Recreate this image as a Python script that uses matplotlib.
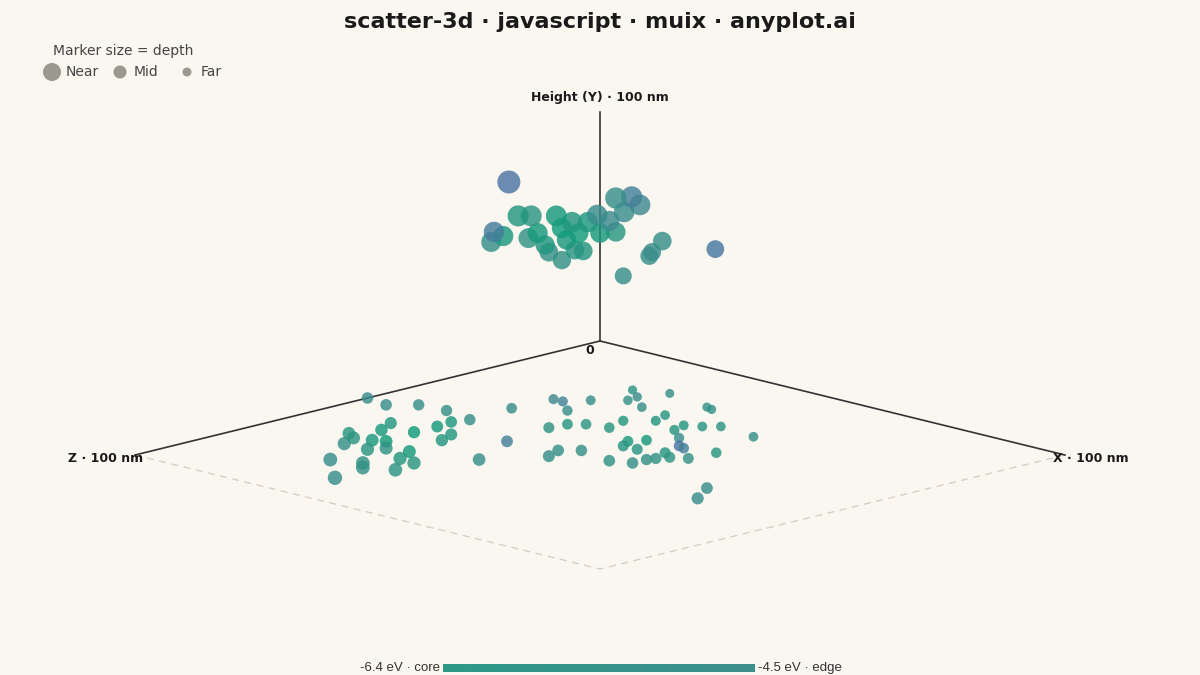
import numpy as np
import matplotlib.pyplot as plt
from matplotlib.colors import LinearSegmentedColormap

# particle positions in nm (x, y = height, z) and band energy in eV
top_x = [20.2, 18.3, 18.6, 19.6, 21.2, 22.6, 22.3, 23.3, 24.1, 24.5, 25.9, 25.3, 25.9, 26.4, 27.0, 27.7,
         28.2, 27.3, 28.7, 29.7, 30.0, 31.0, 31.7, 31.7, 32.6, 33.4, 34.3, 36.7, 35.6, 35.3, 42.4, 32.5]
top_y = [99.3, 73.1, 77.5, 75.7, 84.5, 84.5, 74.8, 77.0, 71.8, 68.7, 65.2, 84.5, 79.2, 74.0, 81.8, 77.0,
         69.2, 69.6, 81.8, 84.9, 77.0, 82.3, 77.5, 92.3, 86.2, 92.8, 89.3, 73.5, 68.7, 67.0, 70.0, 58.3]
top_z = [39.8, 41.7, 41.4, 40.4, 38.8, 37.4, 37.7, 36.7, 35.9, 35.5, 34.1, 34.7, 34.1, 33.6, 33.0, 32.3,
         31.8, 32.7, 31.3, 30.3, 30.0, 29.0, 28.3, 28.3, 27.4, 26.6, 25.7, 23.3, 24.4, 24.7, 17.6, 27.5]
top_e = [-4.6, -5.5, -4.8, -6.1, -6.0, -5.8, -5.7, -6.2, -6.0, -5.6, -5.6, -6.2, -6.3, -6.1, -6.0, -6.3,
         -6.0, -5.9, -6.1, -5.3, -6.2, -5.2, -5.9, -5.4, -5.3, -4.9, -5.1, -5.5, -5.3, -5.4, -4.7, -5.4]

left_x = [0, 5, 8.5, 14, 20.5, 20, 13.5, 16, 15.5, 13.5, 19, 21, 20, 20, 19.5, 25, 26.5, 17.5, 22.5, 24,
          28, 30, 33.5, 34.5, 28, 30, 23, 31.5, 39, 34]
left_z = [50, 51, 47.5, 47, 48.5, 39, 67.5, 69, 62.5, 58.5, 68, 67, 60, 55, 51.5, 57, 60.5, 72.5, 72.5, 70,
          69, 73, 73.5, 78.5, 79, 81, 81, 88.5, 65, 54]
left_e = [-5.3, -5.4, -5.4, -5.6, -5.5, -5.4, -5.9, -5.8, -6.2, -6.0, -6.1, -6.3, -6.3, -6.2, -6.1, -6.0,
          -6.0, -5.6, -5.9, -5.7, -6.2, -6.0, -5.9, -5.8, -5.6, -5.6, -5.4, -5.4, -5.4, -4.9]

right_x = [20.5, 22.5, 27, 25, 29, 25, 28.5, 30.5, 33.5, 40.5, 42, 39.5, 41, 32.5, 33, 35, 39, 37.5, 46,
           48.5, 50.5, 58.5, 47, 51, 47, 48.5, 48.5, 51.5, 54.5, 56, 43.5, 46, 45, 53.5, 57, 57, 57.5, 56,
           58.5, 61, 61.5, 76, 79.5]
right_z = [30.5, 30.5, 34, 27, 23, 18, 20.5, 15.5, 24.5, 17.5, 18, 25.5, 29, 43.5, 40, 38, 37, 32.5, 28,
           26.5, 24.5, 25.5, 31, 34, 41, 38.5, 43.5, 43.5, 37.5, 38, 52.5, 50, 56, 51.5, 50, 47, 45.5, 42,
           43.5, 42, 36.5, 53, 58.5]
right_e = [-5.1, -5.0, -5.4, -5.4, -5.6, -5.8, -5.3, -5.5, -5.4, -5.6, -5.7, -5.9, -6.0, -5.7, -5.9, -5.8,
           -5.9, -6.0, -6.0, -5.9, -5.8, -5.5, -5.9, -5.3, -6.1, -6.2, -5.9, -5.8, -4.6, -4.9, -5.5, -5.6,
           -5.4, -5.7, -5.5, -5.6, -5.7, -5.9, -5.8, -5.6, -5.9, -5.3, -5.3]

x = np.array(top_x + left_x + right_x)
y = np.array(top_y + [0] * (len(left_x) + len(right_x)))
z = np.array(top_z + left_z + right_z)
energy = np.array(top_e + left_e + right_e)
e_min, e_max = -6.4, -4.5

bg = '#faf7f1'
origin = np.array([600, 341])
ux, uz, uy = np.array([465, 114]), np.array([-465, 114]), np.array([0, -229])


def project(px, py, pz):
    # 100 nm -> pixels, simple fixed oblique view
    px, py, pz = np.asarray(px) / 100, np.asarray(py) / 100, np.asarray(pz) / 100
    sx = origin[0] + px * ux[0] + pz * uz[0] + py * uy[0]
    sy = origin[1] + px * ux[1] + pz * uz[1] + py * uy[1]
    return sx, sy


cmap = LinearSegmentedColormap.from_list('en', ['#0c9c78', '#2f9384', '#3d8a90', '#4d6fa6'])

fig = plt.figure(figsize=(12, 6.75), dpi=100, facecolor=bg)
ax = fig.add_axes([0, 0, 1, 1])
ax.set_facecolor(bg)
ax.set_xlim(0, 1200)
ax.set_ylim(675, 0)
ax.axis('off')

# axes and floor
for end in [(100, 0, 0), (0, 100, 0), (0, 0, 100)]:
    sx, sy = project([0, end[0]], [0, end[1]], [0, end[2]])
    ax.plot(sx, sy, color='#333333', lw=1.2, zorder=1)
for a, b in [((100, 0, 0), (100, 0, 100)), ((0, 0, 100), (100, 0, 100))]:
    sx, sy = project([a[0], b[0]], [a[1], b[1]], [a[2], b[2]])
    ax.plot(sx, sy, color='#d9cfc0', lw=1, ls=(0, (5, 4)), zorder=0)

kw = dict(fontsize=9, fontweight='bold', color='#1a1a1a')
sx, sy = project(0, 100, 0)
ax.text(sx, sy - 8, 'Height (Y) · 100 nm', ha='center', va='bottom', **kw)
sx, sy = project(0, 0, 0)
ax.text(sx - 10, sy + 3, '0', ha='center', va='top', **kw)
sx, sy = project(0, 0, 100)
ax.text(sx + 8, sy + 3, 'Z · 100 nm', ha='right', va='center', **kw)
sx, sy = project(100, 0, 0)
ax.text(sx - 12, sy + 3, 'X · 100 nm', ha='left', va='center', **kw)

# points, size encodes depth
depth = y + 0.6 * z
radius = 4.5 + (depth - depth.min()) / (depth.max() - depth.min()) * 7
sx, sy = project(x, y, z)
order = np.argsort(depth)
ax.scatter(sx[order], sy[order], s=(radius[order] * 0.72 * 2) ** 2,
           c=energy[order], cmap=cmap, vmin=e_min, vmax=e_max, alpha=0.82, edgecolors='none', zorder=3)

ax.text(600, 22, 'scatter-3d · javascript · muix · anyplot.ai', ha='center', va='center',
        fontsize=16, fontweight='bold', color='#1a1a1a')

# size legend
ax.text(53, 51, 'Marker size = depth', ha='left', va='center', fontsize=10, color='#444444')
for lx, r, lab in [(52, 9, 'Near'), (120, 6.5, 'Mid'), (187, 4.5, 'Far')]:
    ax.scatter([lx], [72], s=(r * 0.72 * 2) ** 2, color='#9a9a90', edgecolors='none')
    ax.text(lx + 14, 72, lab, ha='left', va='center', fontsize=10, color='#444444')

# colour bar
grad = np.linspace(0, 1, 256).reshape(1, -1)
ax.imshow(grad, extent=(443, 755, 672, 664), cmap=LinearSegmentedColormap.from_list('cb', ['#2f9a88', '#3d8f8e']),
          aspect='auto', zorder=2)
ax.text(440, 668, f'{e_min} eV · core', ha='right', va='center', fontsize=9.5, color='#333333',
        family='Liberation Sans')
ax.text(758, 668, f'{e_max} eV · edge', ha='left', va='center', fontsize=9.5, color='#333333',
        family='Liberation Sans')

fig.savefig('out.png', dpi=100, facecolor=bg)
